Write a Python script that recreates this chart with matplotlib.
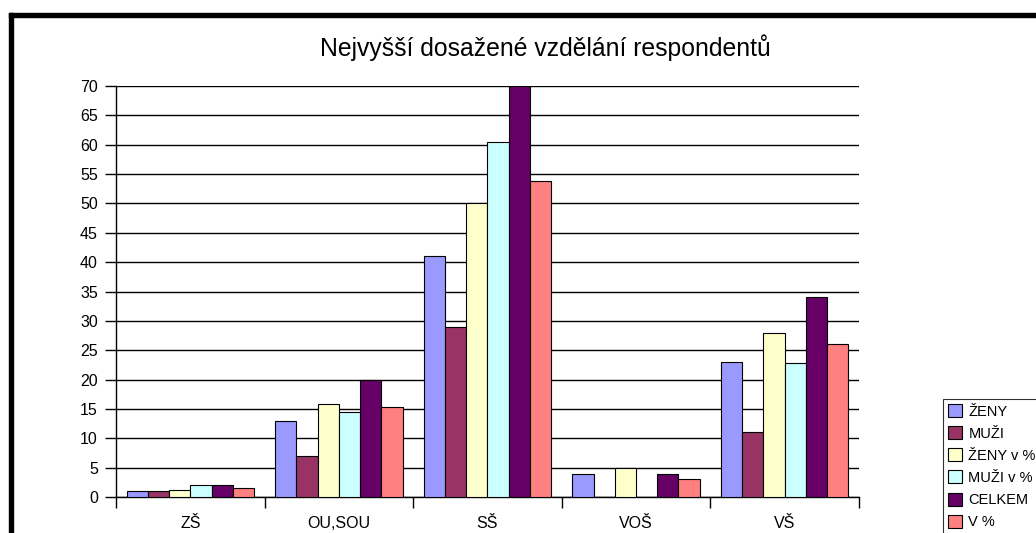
import numpy as np
import matplotlib.pyplot as plt
from matplotlib.patches import Rectangle

categories = ['ZŠ', 'OU,SOU', 'SŠ', 'VOŠ', 'VŠ']
series_names = ['ŽENY', 'MUŽI', 'ŽENY v %', 'MUŽI v %', 'CELKEM', 'V %']
zeny = [1, 13, 41, 4, 23]
muzi = [1, 7, 29, 0, 11]
zeny_pct = [1.2, 15.9, 50, 5, 28]
muzi_pct = [2.0, 14.5, 60.4, 0, 22.9]
celkem = [2, 20, 70, 4, 34]
v_pct = [1.6, 15.4, 53.8, 3.1, 26.1]
colors = ['#9999FF', '#993366', '#FFFFCC', '#CCFFFF', '#660066', '#FF8080']

plt.rcParams['font.family'] = ['Liberation Sans', 'DejaVu Sans']

fig = plt.figure(figsize=(10.36, 5.33), dpi=100)
ax = fig.add_axes([0.112, 0.0675, 0.717, 0.771])

# thick frame at top and left like the original sheet
fig.patches.append(Rectangle((0.0087, 0.968), 1.0, 0.008, transform=fig.transFigure,
                             color='black', zorder=0))
fig.patches.append(Rectangle((0.0087, 0.0), 0.0039, 0.976, transform=fig.transFigure,
                             color='black', zorder=0))

data = [zeny, muzi, zeny_pct, muzi_pct, celkem, v_pct]
x = np.arange(len(categories))
w = 1.0 / 7
for i, (vals, c, name) in enumerate(zip(data, colors, series_names)):
    ax.bar(x - 0.5 + w * (i + 1), vals, width=w, color=c, edgecolor='black',
           linewidth=0.8, label=name, zorder=3)

ax.set_xlim(-0.5, len(categories) - 0.5)
ax.set_ylim(0, 70)
ax.set_yticks(np.arange(0, 71, 5))
ax.yaxis.grid(True, color='black', linewidth=1.0, zorder=0)
ax.set_axisbelow(True)
for s in ['top', 'right']:
    ax.spines[s].set_visible(False)
ax.spines['left'].set_linewidth(1.0)
ax.spines['bottom'].set_linewidth(1.0)

ax.set_xticks(x)
ax.set_xticklabels(categories, fontsize=11.5)
ax.tick_params(axis='x', length=0, pad=14)
ax.set_xticks(np.arange(-0.5, len(categories), 1.0), minor=True)
ax.tick_params(axis='x', which='minor', length=8, width=1.0, direction='out')
ax.tick_params(axis='y', length=8, width=1.0, labelsize=11.5, pad=5)

fig.text(0.526, 0.91, 'Nejvyšší dosažené vzdělání respondentů', ha='center',
         va='center', fontsize=17.8)

leg = ax.legend(loc='upper left', bbox_to_anchor=(0.910, 0.2514), bbox_transform=fig.transFigure,
                fontsize=10.5, frameon=True, fancybox=False, edgecolor='black',
                handlelength=1.0, handleheight=1.0, handletextpad=0.4,
                labelspacing=0.52, borderpad=0.35, borderaxespad=0)
leg.get_frame().set_linewidth(0.8)

plt.savefig('out.png', dpi=100)
